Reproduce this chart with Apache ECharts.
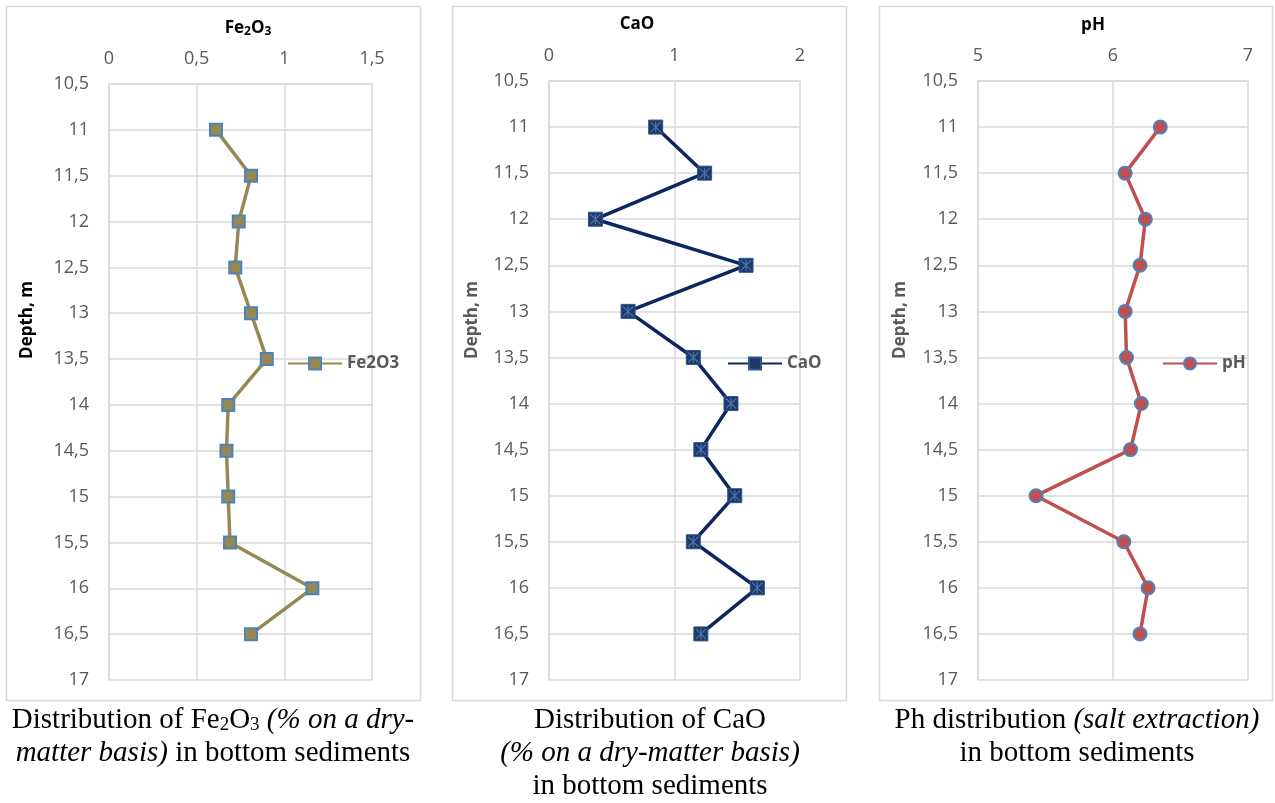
<!DOCTYPE html>
<html>
<head>
<meta charset="utf-8">
<title>Bottom sediments</title>
<script src="https://cdn.jsdelivr.net/npm/echarts@6/dist/echarts.min.js"></script>
<style>
  html, body { margin: 0; padding: 0; background: #fff; }
  #main { width: 1275px; height: 803px; }
</style>
</head>
<body>
<div id="main"></div>
<script>
// depth of each sample, m
const depth = [11, 11.5, 12, 12.5, 13, 13.5, 14, 14.5, 15, 15.5, 16, 16.5];
// values, % on a dry-matter basis
const fe2o3 = [0.61, 0.81, 0.74, 0.72, 0.81, 0.90, 0.68, 0.67, 0.68, 0.69, 1.16, 0.81];
const cao = [0.85, 1.24, 0.37, 1.57, 0.63, 1.15, 1.45, 1.21, 1.48, 1.15, 1.66, 1.21];
// pH, salt extraction
const ph = [6.35, 6.09, 6.24, 6.20, 6.09, 6.10, 6.21, 6.13, 5.43, 6.08, 6.26, 6.20];
// axis ranges
const depthRange = [10.5, 17, 0.5];
const feRange = [0, 1.5, 0.5];
const caoRange = [0, 2, 1];
const phRange = [5, 7, 1];

const GRID = '#d9d9d9';
const LABEL = '#595959';
const LABEL_FONT = '"Open Sans", "Noto Sans", sans-serif';
const SERIF = '"Liberation Serif", "DejaVu Serif", serif';

const comma = v => String(v).replace('.', ',');
const pairs = vals => vals.map((v, i) => [v, depth[i]]);

function xAxis(idx, r) {
  return {
    gridIndex: idx, type: 'value', position: 'top',
    min: r[0], max: r[1], interval: r[2],
    axisLine: { show: true, lineStyle: { color: GRID, width: 1.5 } },
    axisTick: { show: false },
    axisLabel: { formatter: comma, color: LABEL, fontSize: 18, fontFamily: LABEL_FONT, margin: 16 },
    splitLine: { show: true, lineStyle: { color: GRID, width: 1.5 } }
  };
}
function yAxis(idx) {
  return {
    gridIndex: idx, type: 'value', inverse: true,
    min: depthRange[0], max: depthRange[1], interval: depthRange[2],
    axisLine: { show: true, lineStyle: { color: GRID, width: 1.5 } },
    axisTick: { show: false },
    axisLabel: { formatter: comma, color: LABEL, fontSize: 18, fontFamily: LABEL_FONT, margin: 20, showMaxLabel: true, showMinLabel: true },
    splitLine: { show: true, lineStyle: { color: GRID, width: 1.5 } }
  };
}
function legend(name, left) {
  return {
    data: [name], left: left, top: 355, orient: 'vertical', padding: 0,
    itemWidth: 54, itemHeight: 15,
    textStyle: { color: LABEL, fontSize: 17, fontWeight: 'bold', fontFamily: LABEL_FONT }
  };
}
function boxRect(x, w) {
  return { type: 'rect', silent: true, z: -10, shape: { x: x + 0.5, y: 6.5, width: w, height: 694 },
    style: { fill: '#fff', stroke: GRID, lineWidth: 1.5 } };
}
function axisTitle(x, y, text, rich) {
  return { type: 'text', x: x, y: y, silent: true,
    style: { text: text, rich: rich, align: 'center', verticalAlign: 'middle' } };
}
function depthTitle(x, color) {
  return { type: 'text', x: x, y: 320, rotation: Math.PI / 2, silent: true,
    style: { text: 'Depth, m', fill: color, font: 'bold 17px ' + LABEL_FONT, align: 'center', verticalAlign: 'middle' } };
}
function caption(x, text) {
  return { type: 'text', x: x, y: 704, silent: true,
    style: {
      text: text, align: 'center', verticalAlign: 'top',
      rich: {
        a: { fontFamily: SERIF, fontSize: 29, lineHeight: 33, color: '#000' },
        i: { fontFamily: SERIF, fontSize: 29, lineHeight: 33, fontStyle: 'italic', color: '#000' },
        s: { fontFamily: SERIF, fontSize: 19, lineHeight: 33, color: '#000', verticalAlign: 'bottom', padding: [0, 0, 2, 0] }
      }
    } };
}

const titleRich = {
  b: { fontFamily: LABEL_FONT, fontSize: 17, fontWeight: 'bold', color: LABEL },
  s: { fontFamily: LABEL_FONT, fontSize: 12, fontWeight: 'bold', color: LABEL, verticalAlign: 'bottom', padding: [8, 0, 0, 0] }
};

const starPath = 'path://M0 1L1 0L12 11L11 12ZM11 0L12 1L1 12L0 11ZM5.3 0L6.7 0L6.7 12L5.3 12Z';

const chart = echarts.init(document.getElementById('main'), null, { renderer: 'canvas' });
chart.setOption({
  backgroundColor: '#fff',
  animation: false,
  grid: [
    { left: 109, top: 84, width: 263, height: 596 },
    { left: 549, top: 81, width: 251, height: 599 },
    { left: 978, top: 81, width: 270, height: 599 }
  ],
  xAxis: [xAxis(0, feRange), xAxis(1, caoRange), xAxis(2, phRange)],
  yAxis: [yAxis(0), yAxis(1), yAxis(2)],
  legend: [legend('Fe2O3', 287), legend('CaO', 727), legend('pH', 1162)],
  series: [
    {
      name: 'Fe2O3', type: 'line', xAxisIndex: 0, yAxisIndex: 0, data: pairs(fe2o3),
      symbol: 'rect', symbolSize: 12,
      lineStyle: { color: '#938953', width: 3.5 },
      itemStyle: { color: '#938953', borderColor: '#4f81bd', borderWidth: 2 }
    },
    {
      name: 'CaO', type: 'line', xAxisIndex: 1, yAxisIndex: 1, data: pairs(cao),
      symbol: 'rect', symbolSize: 14,
      lineStyle: { color: '#0c2760', width: 3.5 },
      itemStyle: { color: '#1f3864', borderColor: '#2e5596', borderWidth: 1 }
    },
    {
      name: 'CaO-star', type: 'scatter', xAxisIndex: 1, yAxisIndex: 1, data: pairs(cao),
      symbol: starPath, symbolSize: 11, silent: true, z: 5,
      itemStyle: { color: '#4f81bd' }
    },
    {
      name: 'pH', type: 'line', xAxisIndex: 2, yAxisIndex: 2, data: pairs(ph),
      symbol: 'circle', symbolSize: 13,
      lineStyle: { color: '#c0504d', width: 3.5 },
      itemStyle: { color: '#c0504d', borderColor: '#4f81bd', borderWidth: 2 }
    }
  ],
  graphic: [
    boxRect(6, 414), boxRect(452, 394), boxRect(879, 393),
    axisTitle(248, 28, '{b|Fe}{s|2}{b|O}{s|3}', titleRich),
    axisTitle(637, 24, '{b|CaO}', titleRich),
    axisTitle(1093, 25, '{b|pH}', titleRich),
    depthTitle(27, '#000'), depthTitle(472, LABEL), depthTitle(900, LABEL),
    caption(213, '{a|Distribution of Fe}{s|2}{a|O}{s|3}{i| (% on a dry-}\n{i|matter basis)}{a| in bottom sediments}'),
    caption(650, '{a|Distribution of CaO}\n{i|(% on a dry-matter basis)}\n{a|in bottom sediments}'),
    caption(1077, '{a|Ph distribution }{i|(salt extraction)}\n{a|in bottom sediments}')
  ]
});
</script>
</body>
</html>
